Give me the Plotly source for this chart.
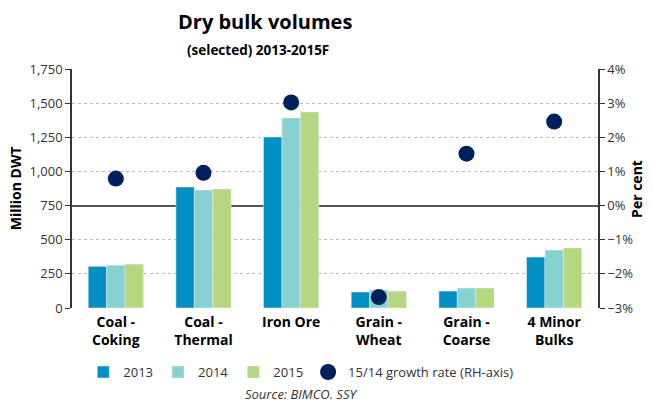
import plotly.graph_objects as go

# Data
categories = ["Coal -<br>Coking", "Coal -<br>Thermal", "Iron Ore",
              "Grain -<br>Wheat", "Grain -<br>Coarse", "4 Minor<br>Bulks"]
vol_2013 = [305, 886, 1252, 117, 124, 373]
vol_2014 = [313, 864, 1391, 132, 146, 424]
vol_2015 = [321, 871, 1435, 124, 146, 439]
growth_15_14 = [0.79, 0.96, 3.02, -2.68, 1.52, 2.46]

FONT = "Open Sans"

fig = go.Figure()
fig.add_trace(go.Bar(x=categories, y=vol_2013, name="2013", marker_color="#0090C4"))
fig.add_trace(go.Bar(x=categories, y=vol_2014, name="2014", marker_color="#88D1D1"))
fig.add_trace(go.Bar(x=categories, y=vol_2015, name="2015", marker_color="#B5D77F"))
fig.add_trace(go.Scatter(x=categories, y=growth_15_14, yaxis="y2", mode="markers",
                         name="15/14 growth rate (RH-axis)",
                         marker=dict(color="#00205B", size=16)))

fig.update_layout(
    width=653, height=403,
    margin=dict(l=72, r=55, t=69, b=95, autoexpand=False),
    plot_bgcolor="white", paper_bgcolor="white",
    font=dict(family=FONT, size=13, color="#333333"),
    barmode="group", bargap=0.37, bargroupgap=0,
    showlegend=True,
    legend=dict(orientation="h", x=0.435, xanchor="center", y=-0.268, yanchor="middle",
                font=dict(size=13, color="#333333"), itemwidth=30),
    xaxis=dict(showline=False, ticks="", tickangle=0, ticklabelstandoff=4,
               tickfont=dict(size=14, color="#000000", family=FONT, weight="bold")),
    yaxis=dict(range=[0, 1750], dtick=250, tickformat=",", showline=True,
               linecolor="#333333", linewidth=1.5, ticks="outside", ticklen=5,
               tickcolor="#333333", showgrid=False, zeroline=False),
    # gridlines and the solid 0% line come from the right-hand axis
    yaxis2=dict(range=[-3, 4], dtick=1, ticksuffix="%", overlaying="y", side="right",
                showline=True, linecolor="#333333", linewidth=1.5, ticks="outside",
                ticklen=5, tickcolor="#333333",
                showgrid=True, gridcolor="#BBBBBB", griddash="dot",
                zeroline=True, zerolinecolor="#555555", zerolinewidth=2),
)

# titles and axis titles as annotations for exact placement
fig.add_annotation(text="<b>Dry bulk volumes</b>", xref="paper", yref="paper",
                   x=0.367, y=1.2, xanchor="center", yanchor="middle", showarrow=False,
                   font=dict(size=20, color="#000000"))
fig.add_annotation(text="<b>(selected) 2013-2015F</b>", xref="paper", yref="paper",
                   x=0.353, y=1.08, xanchor="center", yanchor="middle", showarrow=False,
                   font=dict(size=13.5, color="#000000"))
fig.add_annotation(text="<b>Million DWT</b>", xref="paper", yref="paper",
                   x=-0.107, y=0.5, xanchor="center", yanchor="middle", showarrow=False,
                   textangle=-90, font=dict(size=14, color="#000000"))
fig.add_annotation(text="<b>Per cent</b>", xref="paper", yref="paper",
                   x=1.073, y=0.5, xanchor="center", yanchor="middle", showarrow=False,
                   textangle=-90, font=dict(size=14, color="#000000"))
fig.add_annotation(text="<i>Source: BIMCO. SSY</i>", xref="paper", yref="paper",
                   x=0.435, y=-0.36, xanchor="center", yanchor="middle", showarrow=False,
                   font=dict(size=13, color="#333333"))

fig.write_html("out.html", config={"displayModeBar": False},
               post_script="document.body.style.margin='0';")
